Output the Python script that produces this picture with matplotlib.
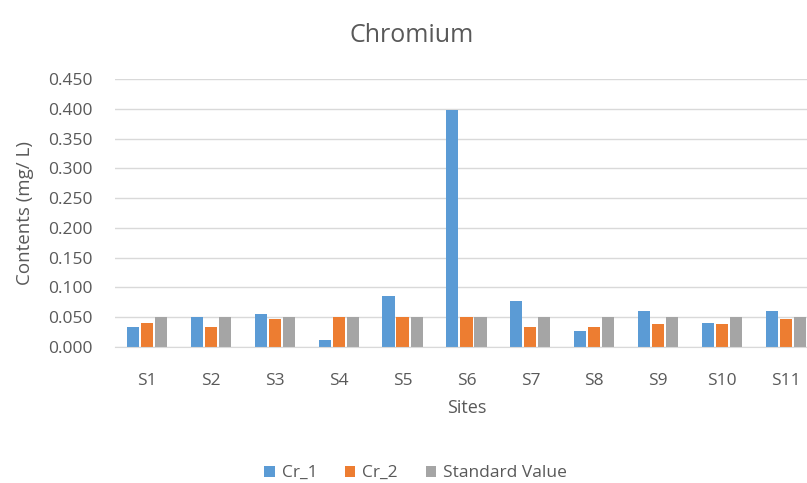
import matplotlib.pyplot as plt
import numpy as np

# 数据
sites = ['S1', 'S2', 'S3', 'S4', 'S5', 'S6', 'S7', 'S8', 'S9', 'S10', 'S11']
cr_1 = [0.034, 0.051, 0.055, 0.011, 0.085, 0.398, 0.078, 0.027, 0.061, 0.041, 0.061]
cr_2 = [0.041, 0.034, 0.047, 0.050, 0.050, 0.050, 0.034, 0.034, 0.038, 0.038, 0.047]
standard = [0.050] * 11

plt.rcParams['font.family'] = ['Open Sans', 'DejaVu Sans']

fig = plt.figure(figsize=(8.07, 4.83), dpi=100)
ax = fig.add_axes([0.1425, 0.2816, 0.871, 0.5548])

x = np.arange(len(sites))
w = 0.19
off = 0.22
ax.bar(x - off, cr_1, w, color='#5B9BD5', label='Cr_1')
ax.bar(x, cr_2, w, color='#ED7D31', label='Cr_2')
ax.bar(x + off, standard, w, color='#A5A5A5', label='Standard Value')

ax.set_xlim(-0.5, len(sites) - 0.5)
ax.set_ylim(0, 0.45)
ax.set_yticks(np.arange(0, 0.451, 0.05))
ax.set_yticklabels([f'{v:.3f}' for v in np.arange(0, 0.451, 0.05)])
ax.set_xticks(x)
ax.set_xticklabels(sites)

ax.grid(axis='y', color='#d9d9d9', linewidth=1)
ax.set_axisbelow(True)
for s in ['top', 'right', 'left']:
    ax.spines[s].set_visible(False)
ax.spines['bottom'].set_color('#d9d9d9')
ax.tick_params(axis='both', length=0, colors='#595959', labelsize=12.5)
ax.tick_params(axis='x', pad=19)
ax.tick_params(axis='y', pad=16)

ax.set_title('Chromium', fontsize=18, color='#595959', x=0.422, pad=27)
ax.set_xlabel('Sites', fontsize=13, color='#595959', labelpad=7)
ax.set_ylabel('Contents (mg/ L)', fontsize=13.5, color='#595959', labelpad=10)

fig.legend(loc='center', bbox_to_anchor=(0.515, 0.02), ncol=3, frameon=False,
           fontsize=12.5, labelcolor='#595959', handlelength=0.6, handleheight=0.6,
           columnspacing=1.6, handletextpad=0.4)

fig.savefig('out.png', dpi=100)
